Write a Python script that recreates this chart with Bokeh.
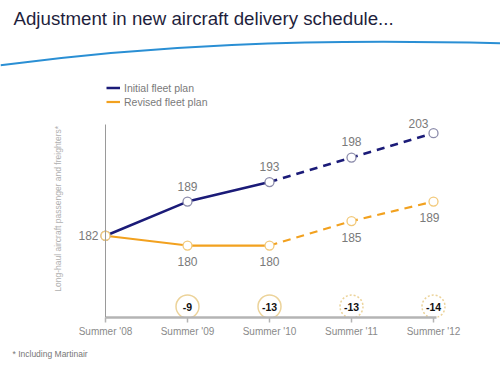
import math
from bokeh.plotting import figure
from bokeh.models import (Range1d, FixedTicker, Label, Legend, LegendItem, Title)
from bokeh.embed import file_html
from bokeh.resources import INLINE

# ---- data ----
categories = ["Summer '08", "Summer '09", "Summer '10", "Summer '11", "Summer '12"]
initial_plan = [182, 189, 193, 198, 203]
revised_plan = [182, 180, 180, 185, 189]
reduction = [-9, -13, -13, -14]          # Summer '09 .. Summer '12

NAVY = "#1b1b78"
ORANGE = "#f2a11f"
FONT = "Liberation Sans"

# pixel helpers for decorative placement
X0, DX = 105.0, 82.0
Y0, DY = 236.0, 4.9
def px(X):
    return (X - X0) / DX
def py(Y):
    return 182 + (Y0 - Y) / DY

W, H = 500, 365
FRAME_LEFT = 0
FRAME_BOTTOM = 318

xs = list(range(len(categories)))

p = figure(width=W, height=H, output_backend="svg", toolbar_location=None,
           x_range=Range1d(px(FRAME_LEFT), px(W)), y_range=Range1d(py(FRAME_BOTTOM), py(0)),
           min_border_left=0, min_border_right=0, min_border_top=0,
           min_border_bottom=H - FRAME_BOTTOM,
           outline_line_color=None, background_fill_color="white", border_fill_color="white")
p.grid.visible = False

# y axis: only its line, at Summer '08
p.yaxis.fixed_location = 0
p.yaxis.bounds = (py(318), py(124))
p.yaxis.ticker = FixedTicker(ticks=[])
p.yaxis.major_tick_out = 0
p.yaxis.major_tick_in = 0
p.yaxis.major_label_standoff = 0
p.yaxis.axis_line_color = "#9a9a9a"
p.yaxis.axis_line_width = 1

# x axis
p.xaxis.bounds = (0, px(436))
p.xaxis.ticker = FixedTicker(ticks=xs)
p.xaxis.major_label_overrides = {i: c for i, c in enumerate(categories)}
p.xaxis.axis_line_color = "#b4b4b4"
p.xaxis.axis_line_width = 2.5
p.xaxis.major_tick_line_color = "#b4b4b4"
p.xaxis.major_tick_line_width = 1.5
p.xaxis.major_tick_out = 5
p.xaxis.major_tick_in = 0
p.xaxis.minor_tick_line_color = None
p.xaxis.major_label_text_font_size = "10px"
p.xaxis.major_label_text_color = "#8a8a8a"
p.xaxis.major_label_text_font = FONT
p.xaxis.major_label_standoff = 3

# lines: solid for the first years, dashed for later years
r_init = p.line(xs[:3], initial_plan[:3], line_color=NAVY, line_width=2.5)
p.line(xs[2:], initial_plan[2:], line_color=NAVY, line_width=2.5, line_dash="8 6")
r_rev = p.line(xs[:3], revised_plan[:3], line_color=ORANGE, line_width=2.2)
p.line(xs[2:], revised_plan[2:], line_color=ORANGE, line_width=2.2, line_dash="8 6")

p.scatter(xs, initial_plan, size=9, fill_color="white", line_color="#8c8cab", line_width=1.3)
p.scatter(xs, revised_plan, size=9, fill_color="white", line_color="#f2c97a", line_width=1.3)

# value labels
init_off = [(-17, 0), (0, 15), (0, 16), (0, 16), (-15, 10)]
rev_off = [None, (0, -16), (0, -16), (0, -16), (-4, -16)]
for i, v in enumerate(initial_plan):
    dx, dy = init_off[i]
    p.add_layout(Label(x=xs[i], y=v, text=str(v), x_offset=dx, y_offset=dy,
                       text_align="center", text_baseline="middle",
                       text_font=FONT, text_font_size="12px", text_color="#7a7a7a"))
for i, v in enumerate(revised_plan):
    if rev_off[i] is None:
        continue
    dx, dy = rev_off[i]
    p.add_layout(Label(x=xs[i], y=v, text=str(v), x_offset=dx, y_offset=dy,
                       text_align="center", text_baseline="middle",
                       text_font=FONT, text_font_size="12px", text_color="#7a7a7a"))

# reduction bubbles
ry = py(307)
p.scatter(xs[1:3], [ry] * 2, size=23, fill_color="white", line_color="#ecd39a", line_width=1.5)
p.scatter(xs[3:], [ry] * 2, size=23, fill_color="white", line_color="#ecd39a", line_width=1.5,
          line_dash="2 2")
for i, v in enumerate(reduction):
    p.add_layout(Label(x=xs[i + 1], y=ry, text=str(v), text_align="center", text_baseline="middle",
                       text_font=FONT, text_font_size="10.5px", text_font_style="bold",
                       text_color="#111111"))

# legend
legend = Legend(items=[LegendItem(label="Initial fleet plan", renderers=[r_init]),
                       LegendItem(label="Revised fleet plan", renderers=[r_rev])],
                location=(106 - FRAME_LEFT, FRAME_BOTTOM - 109), orientation="vertical",
                label_text_font=FONT, label_text_font_size="10.5px", label_text_color="#7a7a7a",
                glyph_width=14, glyph_height=13, label_height=13, label_standoff=4,
                spacing=1, padding=0, margin=0, border_line_color=None,
                background_fill_alpha=0)
p.add_layout(legend)

# y axis title (rotated)
p.add_layout(Label(x=px(57), y=py(209), text="Long-haul aircraft passenger and freighters*",
                   angle=math.pi / 2, text_align="center", text_baseline="middle",
                   text_font=FONT, text_font_size="8.5px", text_color="#b0b0b0"))

# slide title
p.add_layout(Label(x=px(13), y=py(18), text="Adjustment in new aircraft delivery schedule...",
                   text_align="left", text_baseline="middle",
                   text_font=FONT, text_font_size="18.7px", text_color="#1f1f3d"))

# decorative blue swoosh
p.bezier(x0=[px(0)], y0=[py(65)], x1=[px(500)], y1=[py(43)],
         cx0=[px(150)], cy0=[py(45)], cx1=[px(300)], cy1=[py(38)],
         line_color="#2a8fd4", line_width=2)

# footnote
p.add_layout(Title(text="* Including Martinair", align="left", offset=12,
                   text_font=FONT, text_font_size="8.5px", text_font_style="normal",
                   text_color="#777777", standoff=14), "below")

open("out.html", "w").write(file_html(p, INLINE))
